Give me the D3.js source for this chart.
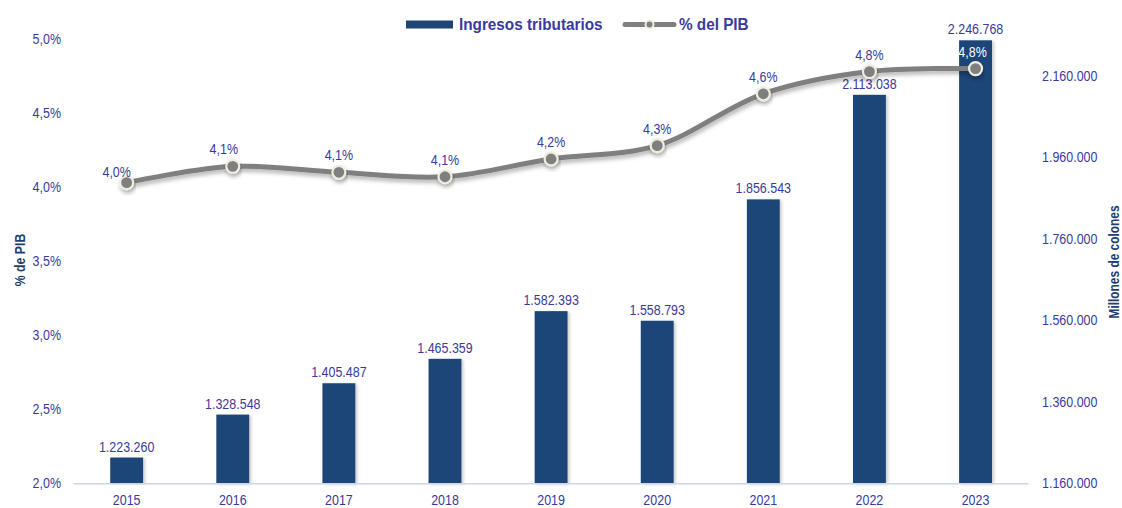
<!DOCTYPE html>
<html>
<head>
<meta charset="utf-8">
<script src="https://cdn.jsdelivr.net/npm/d3@7"></script>
<style>
  body { margin: 0; background: #fff; }
  text { font-family: "Liberation Sans", Arial, sans-serif; }
</style>
</head>
<body>
<div id="chart"></div>
<script>
// Data
const years = ["2015", "2016", "2017", "2018", "2019", "2020", "2021", "2022", "2023"];
const ingresos = [1223260, 1328548, 1405487, 1465359, 1582393, 1558793, 1856543, 2113038, 2246768];
const pctPib = [4.03, 4.14, 4.10, 4.07, 4.19, 4.28, 4.63, 4.78, 4.80];
const pctLabels = ["4,0%", "4,1%", "4,1%", "4,1%", "4,2%", "4,3%", "4,6%", "4,8%", "4,8%"];
const leftTicks = [2.0, 2.5, 3.0, 3.5, 4.0, 4.5, 5.0];
const rightTicks = [1160000, 1360000, 1560000, 1760000, 1960000, 2160000];

const W = 1122, H = 508;
const barColor = "#1f4578";
const textColor = "#3a3a9c";
const titleColor = "#1f3f6e";
const lineColor = "#7f7f7f";
const NARROW = 0.86;   // no Arial Narrow here, so squeeze Liberation Sans

const loc = d3.formatLocale({decimal: ",", thousands: ".", grouping: [3], currency: ["", ""]});
const fmtNum = loc.format(",d");
const fmtPct = d => loc.format(".1f")(d) + "%";

// place a text at (x, y) and squeeze it horizontally
function narrowAt(sel, fx, fy, s) {
    sel.attr("transform", (d, i) => `translate(${fx(d, i)},${fy(d, i)}) scale(${s || NARROW},1)`);
}

const svg = d3.select("#chart")
    .append("svg")
    .attr("width", W)
    .attr("height", H);

// shadows
const defs = svg.append("defs");
const sh = defs.append("filter").attr("id", "shadow")
    .attr("x", "-20%").attr("y", "-50%").attr("width", "140%").attr("height", "200%");
sh.append("feDropShadow").attr("dx", 1).attr("dy", 3).attr("stdDeviation", 2)
    .attr("flood-color", "#000").attr("flood-opacity", 0.3);
const shBar = defs.append("filter").attr("id", "barshadow")
    .attr("x", "-20%").attr("y", "-5%").attr("width", "150%").attr("height", "110%");
shBar.append("feDropShadow").attr("dx", 2).attr("dy", 1).attr("stdDeviation", 1.5)
    .attr("flood-color", "#000").attr("flood-opacity", 0.2);

// scales
const x = d3.scaleBand()
    .domain(years)
    .range([73.6, 1028.6])
    .paddingInner(0.69)
    .paddingOuter(0.345);

const yL = d3.scaleLinear().domain([2, 5]).range([483.3, 39]);
const yR = d3.scaleLinear().domain([1160000, 2250000]).range([483.3, 39]);

const cx = d => x(d) + x.bandwidth() / 2;

// bars
svg.selectAll(".bar")
    .data(years)
    .enter()
    .append("rect")
    .attr("class", "bar")
    .attr("x", d => x(d))
    .attr("y", (d, i) => yR(ingresos[i]))
    .attr("width", x.bandwidth())
    .attr("height", (d, i) => yR.range()[0] - yR(ingresos[i]))
    .attr("filter", "url(#barshadow)")
    .style("fill", barColor);

// baseline
svg.append("line")
    .attr("x1", x.range()[0]).attr("x2", x.range()[1])
    .attr("y1", yL(2) + 0.5).attr("y2", yL(2) + 0.5)
    .attr("stroke", "#c9d7ea").attr("stroke-width", 1.5);

// bar value labels
svg.selectAll(".blabel")
    .data(years)
    .enter()
    .append("text")
    .attr("class", "blabel")
    .attr("text-anchor", "middle")
    .style("font-size", "14.5px")
    .style("fill", textColor)
    .text((d, i) => fmtNum(ingresos[i]))
    .call(narrowAt, d => cx(d), (d, i) => yR(ingresos[i]) - 6);

// line
const line = d3.line()
    .x(d => cx(d.year))
    .y(d => yL(d.v))
    .curve(d3.curveCatmullRom.alpha(0.5));

const pts = years.map((y, i) => ({year: y, v: pctPib[i], label: pctLabels[i]}));

svg.append("path")
    .datum(pts)
    .attr("d", line)
    .attr("fill", "none")
    .attr("stroke", lineColor)
    .attr("stroke-width", 5)
    .attr("stroke-linecap", "round")
    .attr("filter", "url(#shadow)");

svg.selectAll(".pt")
    .data(pts)
    .enter()
    .append("circle")
    .attr("class", "pt")
    .attr("cx", d => cx(d.year))
    .attr("cy", d => yL(d.v))
    .attr("r", 6.5)
    .attr("fill", lineColor)
    .attr("stroke", "#efedde")
    .attr("stroke-width", 2.2)
    .attr("filter", "url(#shadow)");

svg.selectAll(".plabel")
    .data(pts)
    .enter()
    .append("text")
    .attr("class", "plabel")
    .attr("text-anchor", "middle")
    .style("font-size", "14.5px")
    .style("fill", (d, i) => i === years.length - 1 ? "#ffffff" : textColor)
    .text(d => d.label)
    .call(narrowAt,
        (d, i) => cx(d.year) + (i === 0 ? -10 : (i === 1 ? -9 : (i === 8 ? -3 : 0))),
        (d, i) => yL(d.v) - (i === 0 ? 6 : 12));

const tickStyle = g => g.selectAll("text")
    .style("font-size", "14.5px")
    .style("fill", textColor)
    .style("font-family", "\"Liberation Sans\", Arial, sans-serif")
    .attr("transform", `scale(${NARROW},1)`);

// left axis
const axL = svg.append("g")
    .attr("transform", "translate(61,0)")
    .call(d3.axisLeft(yL).tickValues(leftTicks).tickSize(0).tickPadding(0).tickFormat(fmtPct));
axL.select(".domain").remove();
axL.call(tickStyle);

// right axis
const axR = svg.append("g")
    .attr("transform", "translate(1042,0)")
    .call(d3.axisRight(yR).tickValues(rightTicks).tickSize(0).tickPadding(0).tickFormat(fmtNum));
axR.select(".domain").remove();
axR.call(tickStyle);

// x axis labels
const axX = svg.append("g")
    .attr("transform", "translate(0,495)")
    .call(d3.axisBottom(x).tickSize(0).tickPadding(0));
axX.select(".domain").remove();
axX.call(tickStyle);

// axis titles
svg.append("text")
    .attr("transform", `translate(25,260) rotate(-90) scale(0.88,1)`)
    .attr("text-anchor", "middle")
    .style("font-size", "14px")
    .style("font-weight", "bold")
    .style("fill", titleColor)
    .text("% de PIB");

svg.append("text")
    .attr("transform", `translate(1119,262) rotate(-90) scale(0.85,1)`)
    .attr("text-anchor", "middle")
    .style("font-size", "14px")
    .style("font-weight", "bold")
    .style("fill", titleColor)
    .text("Millones de colones");

// legend
const lg = svg.append("g");
lg.append("rect")
    .attr("x", 406).attr("y", 20.5).attr("width", 47).attr("height", 8)
    .style("fill", barColor);
lg.append("text")
    .attr("transform", "translate(459,30) scale(0.9,1)")
    .style("font-size", "17px").style("font-weight", "bold").style("fill", textColor)
    .text("Ingresos tributarios");
lg.append("line")
    .attr("x1", 625).attr("x2", 674).attr("y1", 24.5).attr("y2", 24.5)
    .attr("stroke", lineColor).attr("stroke-width", 5).attr("stroke-linecap", "round");
lg.append("circle")
    .attr("cx", 649.5).attr("cy", 24.5).attr("r", 4)
    .attr("fill", lineColor).attr("stroke", "#efedde").attr("stroke-width", 2);
lg.append("text")
    .attr("transform", "translate(679,30) scale(0.9,1)")
    .style("font-size", "17px").style("font-weight", "bold").style("fill", textColor)
    .text("% del PIB");
</script>
</body>
</html>
